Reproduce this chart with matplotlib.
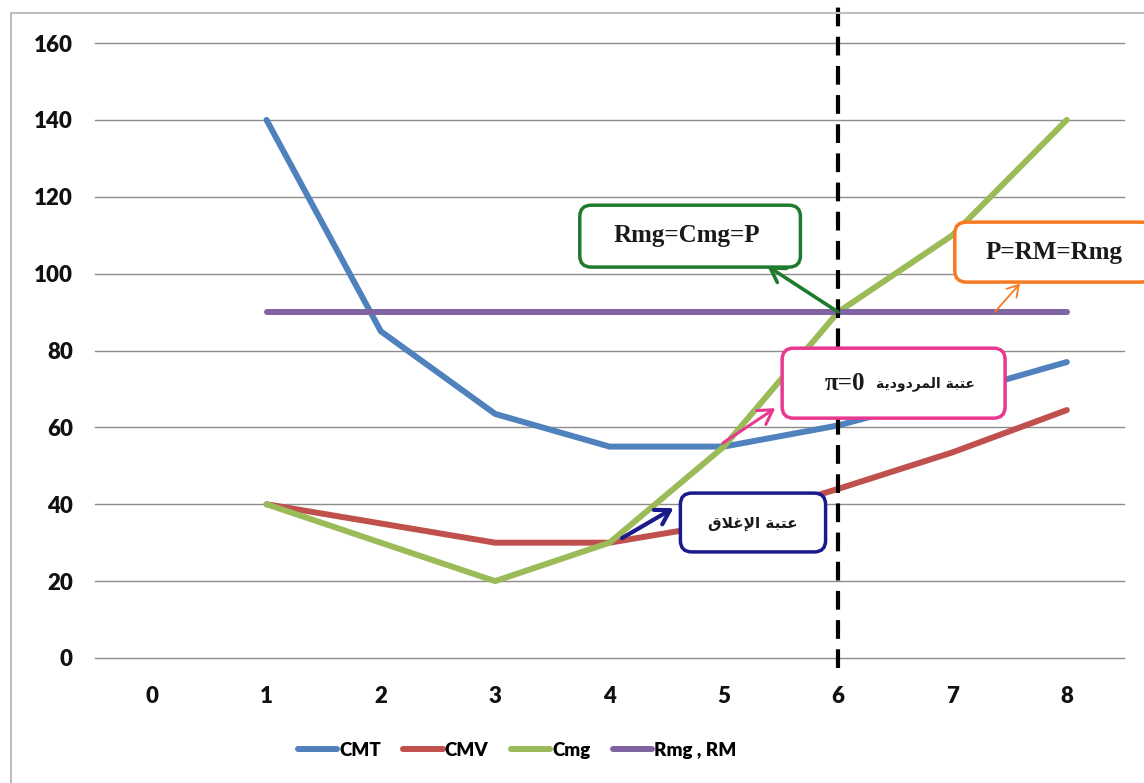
import matplotlib
matplotlib.use("Agg")
import matplotlib.pyplot as plt
from matplotlib.patches import FancyBboxPatch, Rectangle

# quantity axis (categories) and cost / revenue series
categories = ["0", "1", "2", "3", "4", "5", "6", "7", "8"]
q = [1, 2, 3, 4, 5, 6, 7, 8]
cmt = [140, 85, 63.5, 55, 55, 60.5, 68.5, 77]
cmv = [40, 35, 30, 30, 35, 44, 53.5, 64.5]
cmg = [40, 30, 20, 30, 55, 90, 110, 140]
rmg = [90, 90, 90, 90, 90, 90, 90, 90]
y_ticks = [0, 20, 40, 60, 80, 100, 120, 140, 160]
q_shutdown = 6

# Arabic labels written with presentation forms in visual (left-to-right) order,
# since matplotlib does no shaping or bidi reordering
lbl_breakeven = "\ufe94\ufef3\ufea9\ufeed\ufea9\ufeae\ufee4\ufedf\ufe8d \ufe94\ufe92\ufe98\ufecb"
lbl_closing = "\ufed5\ufefc\ufecf\ufef9\ufe8d \ufe94\ufe92\ufe98\ufecb"

W, H = 1144, 783
fig = plt.figure(figsize=(W / 100, H / 100), dpi=100)
ax = fig.add_axes([95 / W, 125 / H, 1029 / W, 615 / H])

# light outer frame
fig.patches.append(Rectangle((11 / W, -0.1), 2, (H - 13) / H + 0.1, transform=fig.transFigure,
                             fill=False, edgecolor="#BFBFBF", linewidth=1.5))

line_kw = dict(linewidth=4.3, solid_capstyle="round", solid_joinstyle="round")
ax.plot(q, cmt, color="#4F81BD", label="CMT", zorder=3, **line_kw)
ax.plot(q, cmv, color="#C0504D", label="CMV", zorder=3, **line_kw)
ax.plot(q, cmg, color="#9BBB59", label="Cmg", zorder=3, **line_kw)
ax.plot(q, rmg, color="#8064A2", label="Rmg , RM", zorder=3, **line_kw)

ax.set_xlim(-0.5, len(categories) - 0.5)
ax.set_ylim(0, 160)
ax.set_xticks(range(len(categories)))
ax.set_xticklabels(categories)
ax.set_yticks(y_ticks)
for s in ax.spines.values():
    s.set_visible(False)
ax.grid(axis="y", color="#8C8C8C", linewidth=1.0, zorder=1)
for gl in ax.get_ygridlines():
    gl.set_clip_on(False)
ax.tick_params(length=0)
ax.tick_params(axis="y", pad=16)
ax.tick_params(axis="x", pad=20)
for lab in ax.get_xticklabels() + ax.get_yticklabels():
    lab.set_fontfamily("Lato")
    lab.set_fontweight("heavy")
    lab.set_fontsize(16)
    lab.set_color("#111111")

# shutdown quantity marker
ax.axvline(q_shutdown, ymin=-0.016, ymax=1.1, color="black", linewidth=3,
           linestyle=(0, (4.5, 2.5)), zorder=4, clip_on=False)

# rounded boxes need the axes pixel aspect so corners stay circular
x0, y0 = ax.transData.transform((0, 0))
x1, y1 = ax.transData.transform((1, 1))
aspect = (x1 - x0) / (y1 - y0)


def callout(xa, xb, ya, yb, edge, lw=2.5):
    box = FancyBboxPatch((xa, ya), xb - xa, yb - ya,
                         boxstyle="round,pad=0,rounding_size=0.1",
                         mutation_aspect=aspect, facecolor="white",
                         edgecolor=edge, linewidth=lw, zorder=6, clip_on=False)
    ax.add_patch(box)


def arrow(start, end, color, lw, head=0.5):
    ax.annotate("", xy=end, xytext=start, zorder=7, annotation_clip=False,
                arrowprops=dict(arrowstyle=f"->,head_length={head},head_width={head * 0.6}",
                                color=color, lw=lw, shrinkA=0, shrinkB=0))


serif = dict(family="Liberation Serif", fontweight="bold", color="#1a1a1a")

# Rmg = Cmg = P
callout(3.74, 5.67, 101.7, 117.8, "#1E7B2E")
ax.text(4.68, 109.8, "Rmg=Cmg=P", fontsize=18, ha="center", va="center", zorder=8, **serif)
arrow((6, 90), (5.38, 102), "#1E7B2E", 2.6, head=1.0)

# P = RM = Rmg
callout(7.02, 8.75, 97.8, 113.4, "#F57A22")
ax.text(7.89, 105.6, "P=RM=Rmg", fontsize=18, ha="center", va="center", zorder=8,
        clip_on=False, **serif)
arrow((7.37, 90), (7.59, 97.4), "#F57A22", 1.3, head=0.8)

# break-even threshold
callout(5.51, 7.46, 62.4, 80.6, "#E8388F")
ax.text(5.88, 71.4, "\u03c0=0", fontsize=18, ha="left", va="center", zorder=8, **serif)
ax.text(6.33, 71.4, lbl_breakeven, fontsize=10, ha="left", va="center", zorder=8,
        family="DejaVu Sans", fontweight="bold", color="#1a1a1a")
arrow((4.99, 55.9), (5.45, 65.0), "#E8388F", 2.2, head=1.0)

# shutdown threshold
callout(4.62, 5.89, 27.6, 42.9, "#1A1A8C")
ax.text(5.25, 35.0, lbl_closing, fontsize=11, ha="center", va="center", zorder=8,
        family="DejaVu Sans", fontweight="bold", color="#1a1a1a")
arrow((4.11, 31.2), (4.56, 39.0), "#1A1A8C", 3.0, head=1.0)

handles, labels = ax.get_legend_handles_labels()
fig.legend(handles, labels, loc="center", bbox_to_anchor=(0.452, 0.042), ncol=4,
           frameon=False, handlelength=2.1, handletextpad=0.1, columnspacing=1.2,
           prop=dict(family="Lato", weight="heavy", size=13.5))

fig.savefig("out.png", dpi=100)
